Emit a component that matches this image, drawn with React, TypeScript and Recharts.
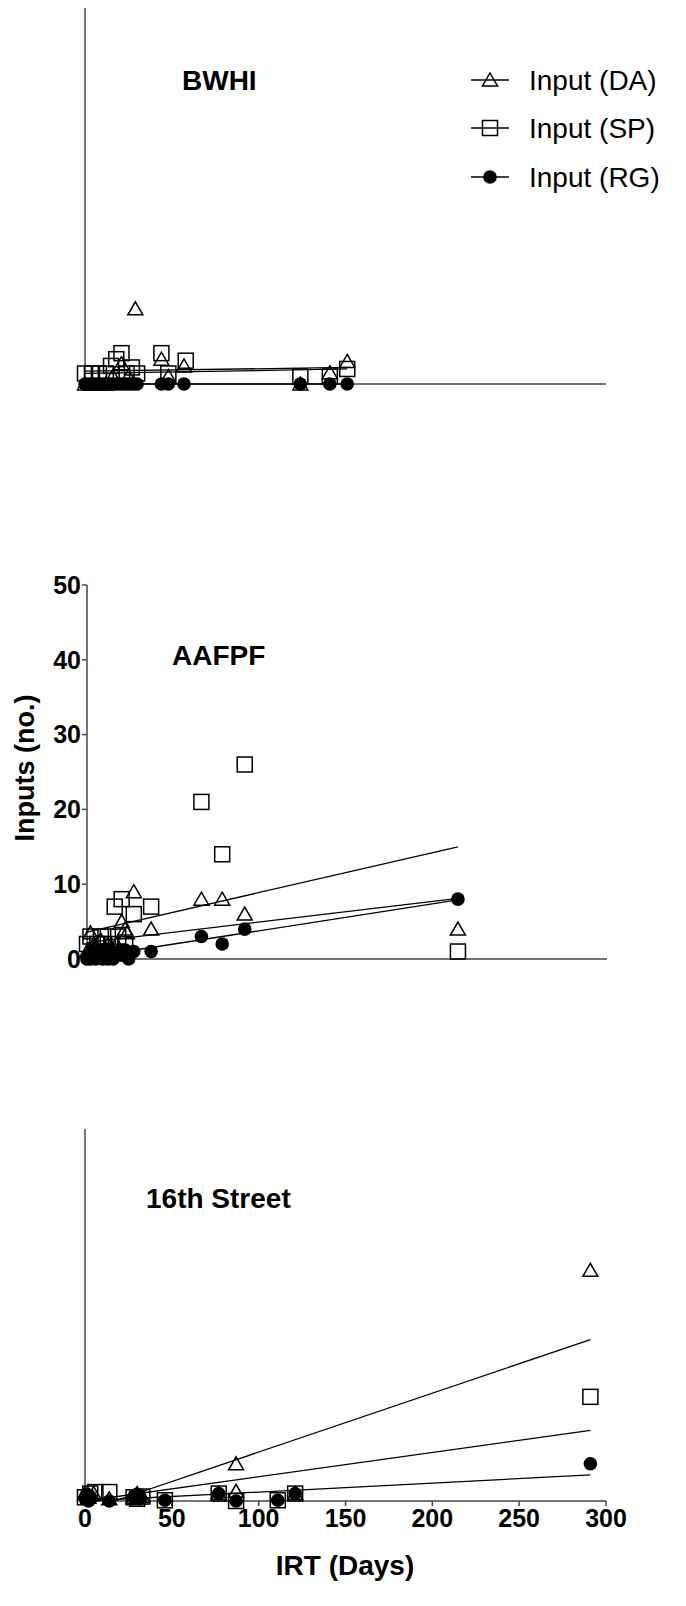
import React from "react";
import { Scatter, ScatterChart, XAxis, YAxis } from "recharts";

// [IRT days, inputs]
const bwhiDA = [[0,0],[4,0],[8,0],[12,0],[16,1],[21,2.7],[25,1],[29,10],[44,3.3],[48,1],[57,2.4],[124,0],[141,1.5],[151,3]];
const bwhiSP = [[0,1.4],[4,1.4],[8,1.4],[12,1.4],[15,2.4],[18,3.3],[21,4.1],[24,1.4],[27,2.2],[30,1.4],[44,4.1],[48,1.4],[58,3.1],[124,1],[141,1],[151,2]];
const bwhiRG = [[0,0],[2,0],[4,0],[6,0],[8,0],[10,0],[12,0],[14,0],[16,0],[18,0],[20,0],[22,0],[24,0],[26,0],[28,0],[30,0],[44,0],[48,0],[57,0],[124,0],[141,0],[151,0]];
const bwhiFitDA = [[0,1.7],[151,2.2]];
const bwhiFitSP = [[0,1.4],[151,2.0]];
const bwhiFitRG = [[0,0],[151,0]];

const aafpfDA = [[0,1],[2,3.5],[4,2],[6,1],[8,2.5],[10,1],[12,2],[14,1.5],[17,2],[20,5],[22,4],[23,3.5],[27,9],[37,4],[66,8],[78,8],[91,6],[214,4]];
const aafpfSP = [[0,2],[2,3],[4,1],[6,2],[8,3],[10,2],[12,3],[14,2],[16,7],[18,3],[20,8],[22,2],[27,6],[37,7],[66,21],[78,14],[91,26],[214,1]];
const aafpfRG = [[0,0],[1,0.5],[2,0],[3,1],[4,0.3],[5,0],[6,0.8],[7,0.2],[8,1],[9,0],[10,0.6],[11,1],[12,0],[13,0.5],[14,1],[15,0],[16,0.7],[18,1],[20,0.5],[22,1.2],[24,0],[27,1],[37,1],[66,3],[78,2],[91,4],[214,8]];
const aafpfFitDA = [[0,2.2],[214,8.1]];
const aafpfFitSP = [[0,3.6],[214,15]];
const aafpfFitRG = [[0,0.2],[214,7.9]];

const st16DA = [[0,1],[2,0.5],[5,1],[14,0.3],[28,0.5],[30,1],[33,0.6],[77,1],[87,5],[87,1.3],[121,1],[291,31]];
const st16SP = [[0,0.5],[3,1],[6,1.2],[14,1.2],[28,0.5],[30,0.3],[33,0.6],[46,0.1],[77,1],[87,0],[111,0.1],[121,1],[291,14]];
const st16RG = [[0,0.4],[1,0.9],[2,0],[3,0.6],[14,0],[28,0.5],[30,0.9],[32,0.3],[46,0.1],[77,1],[87,0],[111,0.1],[121,1],[291,5]];
const st16FitDA = [[17,0],[291,21.7]];
const st16FitSP = [[0,0],[291,9.5]];
const st16FitRG = [[0,0],[291,3.5]];

const X_TICKS = [0, 50, 100, 150, 200, 250, 300];
const Y_TICKS = [0, 10, 20, 30, 40, 50];
const LEGEND = ["Input (DA)", "Input (SP)", "Input (RG)"];

const FONT = "'Liberation Sans', Arial, Helvetica, sans-serif";
const AXIS = "#444";

const pts = (arr: number[][]) => arr.map(([x, y]) => ({ x, y }));

const Tri = (p: any) => (
  <path d={`M${p.cx},${p.cy - 7} L${p.cx + 7.5},${p.cy + 6} L${p.cx - 7.5},${p.cy + 6} Z`}
    fill="none" stroke="#000" strokeWidth={1.5} />
);
const Sq = (p: any) => (
  <rect x={p.cx - 7.5} y={p.cy - 7.5} width={15} height={15} fill="none" stroke="#000" strokeWidth={1.5} />
);
const Dot = (p: any) => <circle cx={p.cx} cy={p.cy} r={6.8} fill="#000" />;
const NoShape = () => <g />;

function Panel({ top, height, margin, da, sp, rg, fda, fsp, frg, yTicks, xTicks, yWidth, xHeight }: any) {
  return (
    <div style={{ position: "absolute", left: 0, top }}>
      <ScatterChart width={686} height={height} margin={margin}>
        <XAxis type="number" dataKey="x" domain={[0, 300]} ticks={X_TICKS}
          stroke={AXIS} strokeWidth={1.5} height={xHeight}
          tick={xTicks ? { fill: "#000", fontSize: 25, fontWeight: 700, fontFamily: FONT } : false}
          tickLine={xTicks} tickSize={5} tickMargin={3} />
        <YAxis type="number" dataKey="y" domain={[0, 50]} ticks={Y_TICKS}
          stroke={AXIS} strokeWidth={1.5} width={yWidth}
          tick={yTicks ? { fill: "#000", fontSize: 25, fontWeight: 700, fontFamily: FONT } : false}
          tickLine={yTicks} tickSize={5} tickMargin={1} />
        <Scatter data={pts(fda)} line={{ stroke: "#000", strokeWidth: 1.3 }} shape={NoShape} isAnimationActive={false} />
        <Scatter data={pts(fsp)} line={{ stroke: "#000", strokeWidth: 1.3 }} shape={NoShape} isAnimationActive={false} />
        <Scatter data={pts(frg)} line={{ stroke: "#000", strokeWidth: 1.3 }} shape={NoShape} isAnimationActive={false} />
        <Scatter data={pts(rg)} shape={Dot} isAnimationActive={false} />
        <Scatter data={pts(sp)} shape={Sq} isAnimationActive={false} />
        <Scatter data={pts(da)} shape={Tri} isAnimationActive={false} />
      </ScatterChart>
    </div>
  );
}

export default function App() {
  const legendRows = [80, 128, 177];
  return (
    <div style={{ position: "absolute", left: 0, top: 0, width: 686, height: 1606, background: "#fff" }}>
      <Panel top={0} height={394} margin={{ top: 8, right: 80, bottom: 9, left: 84 }}
        da={bwhiDA} sp={bwhiSP} rg={bwhiRG} fda={bwhiFitDA} fsp={bwhiFitSP} frg={bwhiFitRG}
        yTicks={false} xTicks={false} yWidth={1} xHeight={1} />
      <Panel top={560} height={439} margin={{ top: 25, right: 79, bottom: 39, left: 41 }}
        da={aafpfDA} sp={aafpfSP} rg={aafpfRG} fda={aafpfFitDA} fsp={aafpfFitSP} frg={aafpfFitRG}
        yTicks={true} xTicks={false} yWidth={46} xHeight={1} />
      <Panel top={1100} height={451} margin={{ top: 29, right: 80, bottom: 5, left: 84 }}
        da={st16DA} sp={st16SP} rg={st16RG} fda={st16FitDA} fsp={st16FitSP} frg={st16FitRG}
        yTicks={false} xTicks={true} yWidth={1} xHeight={45} />

      <svg width={686} height={1606} style={{ position: "absolute", left: 0, top: 0, pointerEvents: "none" }}
        fontFamily={FONT}>
        <text x={182} y={80} fontSize={28} fontWeight={700} dominantBaseline="central">BWHI</text>
        <text x={172} y={655} fontSize={28} fontWeight={700} dominantBaseline="central">AAFPF</text>
        <text x={146} y={1198} fontSize={28} fontWeight={700} dominantBaseline="central">16th Street</text>
        <text x={0} y={0} fontSize={27} fontWeight={700} textAnchor="middle" dominantBaseline="central"
          transform="translate(25,768) rotate(-90)">Inputs (no.)</text>
        <text x={345} y={1565} fontSize={28} fontWeight={700} textAnchor="middle" dominantBaseline="central">IRT (Days)</text>
        {LEGEND.map((label, i) => {
          const y = legendRows[i];
          return (
            <g key={label}>
              <line x1={471} x2={509} y1={y} y2={y} stroke="#000" strokeWidth={1.5} />
              {i === 0 && <Tri cx={490} cy={y} />}
              {i === 1 && <Sq cx={490} cy={y} />}
              {i === 2 && <Dot cx={490} cy={y} />}
              <text x={529} y={y} fontSize={28} dominantBaseline="central">{label}</text>
            </g>
          );
        })}
      </svg>
    </div>
  );
}
